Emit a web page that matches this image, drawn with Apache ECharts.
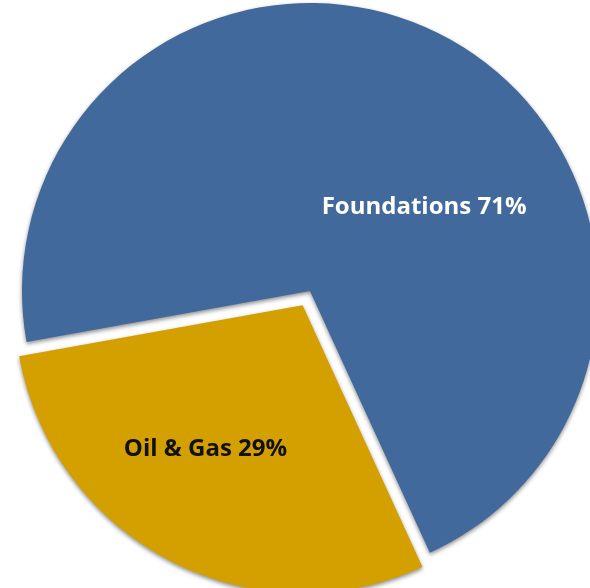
<!DOCTYPE html>
<html>
<head>
<meta charset="utf-8">
<style>
html,body{margin:0;padding:0;background:#fff;}
#chart{width:590px;height:588px;}
</style>
<script src="https://cdn.jsdelivr.net/npm/echarts@6/dist/echarts.min.js"></script>
</head>
<body>
<div id="chart"></div>
<script>
var categories = ['Foundations', 'Oil & Gas'];
var values = [71, 29];
var colors = ['#41699B', '#D4A000'];
var labelColors = ['#FFFFFF', '#111111'];
var labelOffsets = [[46, 46], [-29, 14]];

var chart = echarts.init(document.getElementById('chart'), null, {renderer: 'canvas'});
var data = categories.map(function (c, i) {
  var lbl = {color: labelColors[i], offset: labelOffsets[i]};
  return {
    name: c,
    value: values[i],
    selected: i === 1,
    itemStyle: {color: colors[i]},
    label: lbl,
    select: {itemStyle: {color: colors[i]}, label: lbl}
  };
});
chart.setOption({
  animation: false,
  series: [{
    type: 'pie',
    center: [310, 291],
    radius: [0, 288],
    startAngle: 190.2,
    clockwise: true,
    selectedMode: 'single',
    selectedOffset: 16,
    avoidLabelOverlap: false,
    itemStyle: {
      borderWidth: 0,
      shadowBlur: 4,
      shadowOffsetY: 2,
      shadowColor: 'rgba(0,0,0,0.45)'
    },
    label: {
      show: true,
      position: 'inside',
      fontFamily: 'Open Sans',
      fontWeight: 'bold',
      fontSize: 24,
      formatter: function (p) { return p.name + ' ' + p.value + '%'; }
    },
    labelLine: {show: false},
    emphasis: {disabled: true},
    data: data
  }]
});
</script>
</body>
</html>
